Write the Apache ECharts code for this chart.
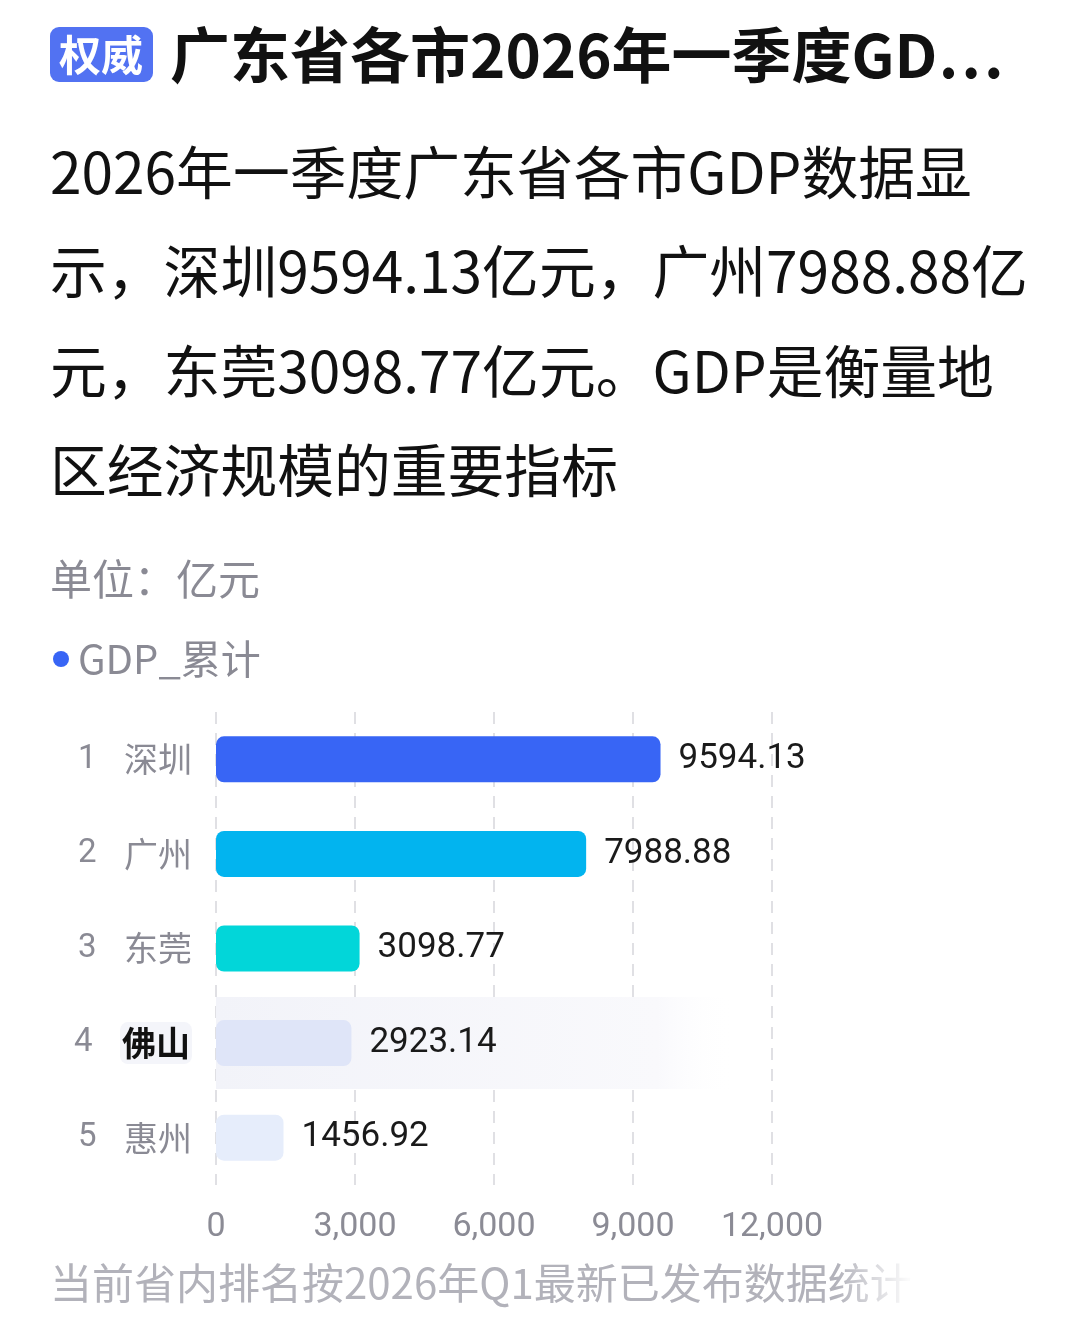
<!DOCTYPE html>
<html><head><meta charset="utf-8">
<script src="https://cdn.jsdelivr.net/npm/echarts@6/dist/echarts.min.js"></script>
<style>html,body{margin:0;padding:0;background:#fff}#c{width:1080px;height:1335px}</style>
</head><body><div id="c"></div>
<script>
const cities = ['深圳', '广州', '东莞', '佛山', '惠州'];
const ranks = [1, 2, 3, 4, 5];
const gdp = [9594.13, 7988.88, 3098.77, 2923.14, 1456.92];
const xTicks = [0, 3000, 6000, 9000, 12000];
const highlightCity = '佛山';
const highlightExtent = 11200;

const FONT = 'Roboto, "Noto Sans CJK SC", sans-serif';
const CJK = '"Noto Sans CJK SC", Roboto, sans-serif';
const barColors = ['#3865f5', '#02b4ef', '#02d6d9', '#dfe5f8', '#e6edfb'];

const chart = echarts.init(document.getElementById('c'), null, {renderer: 'canvas'});
const paragraph = ['2026年一季度广东省各市GDP数据显', '示，深圳9594.13亿元，广州7988.88亿', '元，东莞3098.77亿元。GDP是衡量地', '区经济规模的重要指标'];

const graphics = [
  {type: 'rect', shape: {x: 50, y: 27, width: 103, height: 55, r: 9}, style: {fill: '#5272f2'}},
  {type: 'text', x: 101, y: 55, style: {text: '权威', fill: '#fff', font: 'bold 42px ' + CJK, textAlign: 'center', textVerticalAlign: 'middle'}},
  {type: 'text', x: 170, y: 55, style: {text: '广东省各市2026年一季度GD…', fill: '#111', font: 'bold 60px ' + CJK, textVerticalAlign: 'middle'}},
  {type: 'text', x: 50, y: 579, style: {text: '单位：亿元', fill: '#8a8a94', font: '42px ' + CJK, textVerticalAlign: 'middle'}},
  {type: 'text', x: 50, y: 1283, style: {text: '当前省内排名按2026年Q1最新已发布数据统计', fill: '#b2b2ba', font: '42px ' + CJK, textVerticalAlign: 'middle'}},
  {type: 'rect', shape: {x: 835, y: 1250, width: 245, height: 70}, style: {fill: new echarts.graphic.LinearGradient(0, 0, 1, 0, [{offset: 0, color: 'rgba(255,255,255,0)'}, {offset: 0.3, color: 'rgba(255,255,255,0.95)'}, {offset: 1, color: 'rgba(255,255,255,1)'}])}}
];
paragraph.forEach((t, i) => {
  graphics.push({type: 'text', x: 50, y: 172 + i * 99.5, style: {text: t, fill: '#111', font: '56.8px ' + CJK, textVerticalAlign: 'middle'}});
});

chart.setOption({
  animation: false,
  backgroundColor: '#fff',
  textStyle: {fontFamily: FONT},
  graphic: graphics,
  legend: {
    data: ['GDP_累计'], left: 48, top: 634, icon: 'circle', itemWidth: 16, itemHeight: 16,
    textStyle: {fontSize: 40, color: '#8a8a94', fontFamily: CJK, padding: [0, 0, 0, 4]}
  },
  grid: {left: 216, right: 308, top: 712, bottom: 150, containLabel: false},
  xAxis: {
    type: 'value', min: xTicks[0], max: xTicks[xTicks.length - 1], interval: xTicks[1] - xTicks[0],
    axisLine: {show: false}, axisTick: {show: false},
    splitLine: {show: true, lineStyle: {type: [12, 9], color: '#e0e0e4', width: 2}},
    axisLabel: {fontSize: 34, color: '#8b8b95', margin: 25, fontFamily: FONT,
      formatter: v => v.toLocaleString('en-US')}
  },
  yAxis: [{
    type: 'category', data: cities, inverse: true,
    axisLine: {show: false}, axisTick: {show: false},
    axisLabel: {
      margin: 24,
      formatter: (v, i) => (v === highlightCity ? '{r|' + ranks[i] + '}{h|' + v + '}' : '{r|' + ranks[i] + '}{n|' + v + '}'),
      rich: {
        r: {fontSize: 33, color: '#8a8a94', width: 46, align: 'left', fontFamily: FONT},
        n: {fontSize: 34, color: '#8a8a94', fontFamily: CJK},
        h: {fontSize: 34, color: '#111', fontWeight: 'bold', fontFamily: CJK, backgroundColor: '#f4f5fa', borderRadius: 8, padding: [4, 2, 4, 2]}
      }
    }
  }, {
    type: 'category', data: cities, inverse: true, show: false
  }],
  series: [{
    name: 'highlight', type: 'bar', yAxisIndex: 1, barWidth: 92, silent: true, z: 1,
    data: cities.map(c => c === highlightCity ? highlightExtent : null),
    itemStyle: {color: new echarts.graphic.LinearGradient(0, 0, 1, 0, [{offset: 0, color: '#f2f3f9'}, {offset: 0.85, color: '#f9f9fc'}, {offset: 1, color: 'rgba(255,255,255,0)'}])}
  }, {
    name: 'GDP_累计', type: 'bar', yAxisIndex: 0, barWidth: 46, z: 3,
    data: gdp.map((v, i) => ({value: v, itemStyle: {color: barColors[i]}})),
    itemStyle: {color: '#3865f5', borderRadius: 8},
    label: {show: true, position: 'right', distance: 18, fontSize: 35, color: '#1a1a1a', fontFamily: FONT,
      formatter: p => gdp[p.dataIndex].toFixed(2)}
  }]
});
</script></body></html>
